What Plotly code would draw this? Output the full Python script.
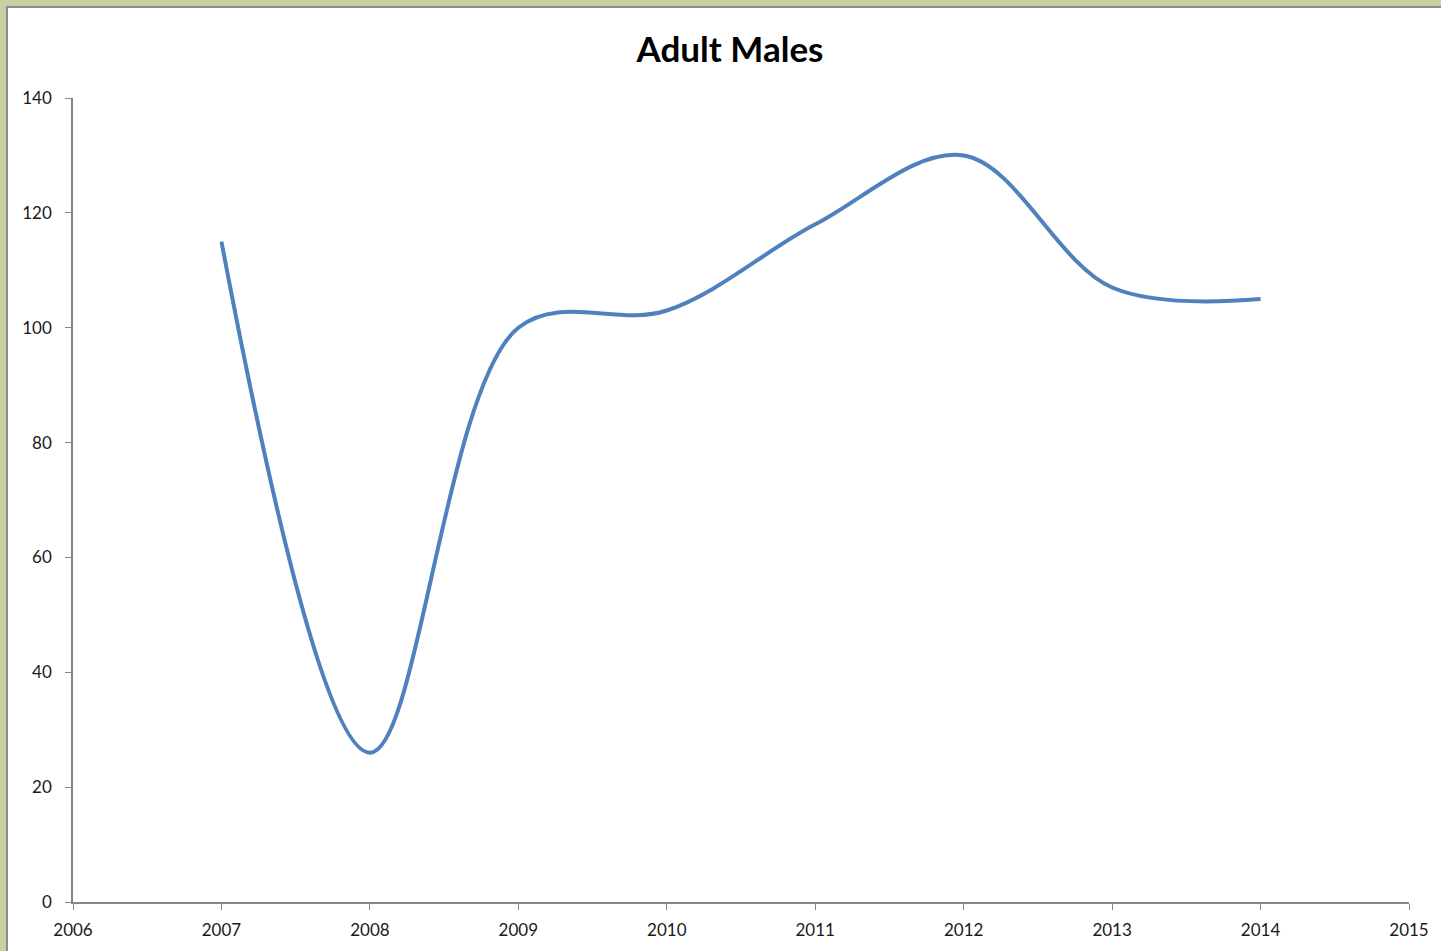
import plotly.graph_objects as go

years = [2007, 2008, 2009, 2010, 2011, 2012, 2013, 2014]
adult_males = [115, 26, 100, 103, 118, 130, 107, 105]
x_ticks = list(range(2006, 2016))
y_ticks = list(range(0, 141, 20))

W, H = 1441, 951
ml, mr, mt, mb = 73, 32, 98, 49
pw, ph = W - ml - mr, H - mt - mb

def px_x(p):
    return (p - ml) / pw

def px_y(p):
    return (H - mb - p) / ph

fig = go.Figure()
fig.add_trace(go.Scatter(
    x=years, y=adult_males, mode="lines",
    line=dict(color="#4F81BD", width=4, shape="spline", smoothing=1.0),
    hoverinfo="x+y", showlegend=False,
))

fig.add_shape(type="rect", xref="paper", yref="paper",
              x0=px_x(7), x1=px_x(W + 5), y0=px_y(H + 5), y1=px_y(7),
              fillcolor="white", line=dict(color="#8C8C8C", width=2), layer="below")

font_family = "Lato, Open Sans, sans-serif"
axis_common = dict(showgrid=False, zeroline=False, showline=True, linecolor="#868686",
                   linewidth=1.5, ticks="outside", ticklen=6, tickcolor="#868686",
                   tickfont=dict(family=font_family, size=17, color="#1a1a1a"))

fig.update_layout(
    width=W, height=H,
    margin=dict(l=ml, r=mr, t=mt, b=mb),
    paper_bgcolor="#C6D1A1", plot_bgcolor="white",
    title=dict(text="<b>Adult Males</b>", x=730 / W, xanchor="center", y=1 - 50 / H, yanchor="middle",
               font=dict(family=font_family, size=35, color="black")),
    xaxis=dict(range=[2006, 2015], tickvals=x_ticks, ticktext=[str(v) for v in x_ticks],
               ticklabelstandoff=6, **axis_common),
    yaxis=dict(range=[0, 140], tickvals=y_ticks, ticktext=[str(v) for v in y_ticks],
               ticklabelstandoff=10, **axis_common),
)

fig.write_html("out.html", config={"displayModeBar": False},
               post_script="document.body.style.margin='0px';document.body.style.overflow='hidden';")
